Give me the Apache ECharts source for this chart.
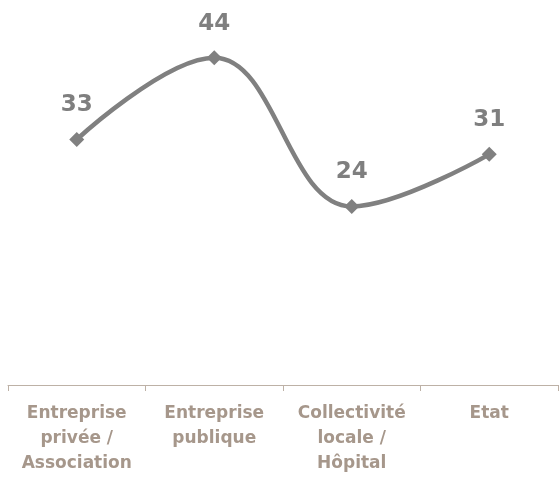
<!DOCTYPE html>
<html>
<head>
<meta charset="utf-8">
<script src="https://cdn.jsdelivr.net/npm/echarts@6/dist/echarts.min.js"></script>
<style>
  html, body { margin: 0; padding: 0; background: #fff; }
  #chart { width: 560px; height: 477px; }
</style>
</head>
<body>
<div id="chart"></div>
<script>
// catégories et valeurs
const categories = [
  "Entreprise\nprivée /\nAssociation",
  "Entreprise\npublique",
  "Collectivité\nlocale /\nHôpital",
  "Etat"
];
const values = [33, 44, 24, 31];

const chart = echarts.init(document.getElementById("chart"));

chart.setOption({
  animation: false,
  grid: { left: 8, right: 2, top: 13, bottom: 92, containLabel: false },
  xAxis: {
    type: "category",
    data: categories,
    boundaryGap: true,
    axisLine: { lineStyle: { color: "#BDB1A6", width: 1 } },
    axisTick: { show: true, length: 6, lineStyle: { color: "#BDB1A6" } },
    axisLabel: {
      interval: 0,
      margin: 16,
      color: "#A6978B",
      fontFamily: "DejaVu Sans",
      fontWeight: "bold",
      fontSize: 17,
      lineHeight: 25,
      align: "center"
    }
  },
  yAxis: {
    type: "value",
    min: 0,
    max: 50,
    show: false,
    splitLine: { show: false }
  },
  series: [
    {
      type: "line",
      data: values,
      smooth: 0.4,
      symbol: "diamond",
      symbolSize: 15,
      lineStyle: { color: "#808080", width: 4.5 },
      itemStyle: { color: "#808080" },
      label: {
        show: true,
        position: "top",
        distance: 15,
        color: "#7F7F7F",
        fontFamily: "DejaVu Sans",
        fontWeight: "bold",
        fontSize: 23
      }
    }
  ]
});
</script>
</body>
</html>
